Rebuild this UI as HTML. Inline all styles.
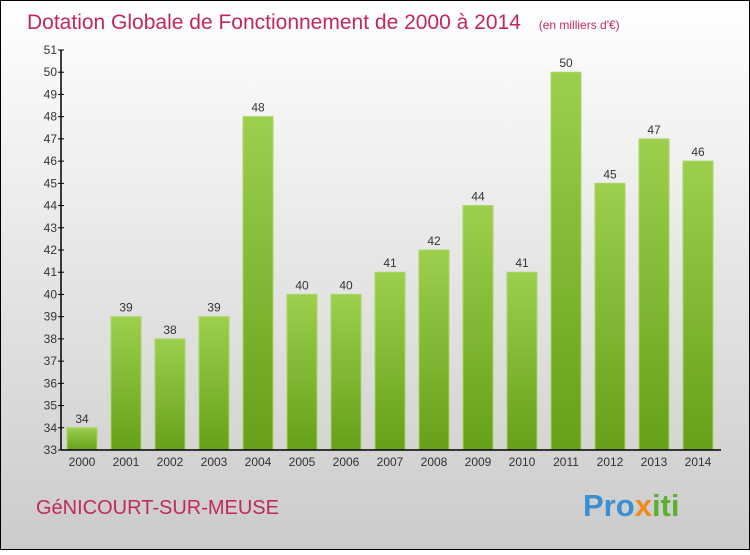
<!DOCTYPE html>
<html><head><meta charset="utf-8"><style>
body{margin:0}
svg text{font-family:"Liberation Sans",sans-serif}
</style></head><body>
<svg width="750" height="550" xmlns="http://www.w3.org/2000/svg">
<defs>
<linearGradient id="bg" x1="0" y1="0" x2="0" y2="1"><stop offset="0" stop-color="#ffffff"/><stop offset="1" stop-color="#cbcbcb"/></linearGradient>
<linearGradient id="bar" x1="0" y1="0" x2="0" y2="1"><stop offset="0" stop-color="#9ccf4e"/><stop offset="1" stop-color="#66a01a"/></linearGradient>
</defs>
<rect x="0.5" y="0.5" width="749" height="549" fill="url(#bg)" stroke="#000"/>
<text x="27" y="29" font-size="21" fill="#c2285a">Dotation Globale de Fonctionnement de 2000 à 2014 <tspan font-size="12" dx="12">(en milliers d'€)</tspan></text>
<text x="36" y="514" font-size="20" fill="#c2285a">GéNICOURT-SUR-MEUSE</text>
<text x="583" y="516" font-size="31" font-weight="bold" fill="#3a8fd0">Pro<tspan fill="#f08a1c">x</tspan><tspan fill="#5cb030">iti</tspan></text>
<g id="plot"></g>
</svg>
<script>
const years=["2000","2001","2002","2003","2004","2005","2006","2007","2008","2009","2010","2011","2012","2013","2014"];
const values=[34,39,38,39,48,40,40,41,42,44,41,50,45,47,46];
const yTicks=[33,34,35,36,37,38,39,40,41,42,43,44,45,46,47,48,49,50,51];
const NS="http://www.w3.org/2000/svg";
const g=document.getElementById('plot');
const y=v=>450-(v-33)*400/18;
const x=i=>67+i*44;
function mk(t,a,txt){const e=document.createElementNS(NS,t);for(const k in a)e.setAttribute(k,a[k]);if(txt!=null)e.textContent=txt;g.appendChild(e);return e;}
values.forEach((v,i)=>{
 const r=mk('rect',{x:x(i),y:y(v),width:30,height:450-y(v),fill:'url(#bar)',stroke:'#a8d860','stroke-width':1});
 
 
 const l=mk('text',{x:x(i)+15,y:y(v)-5,'font-size':12,fill:'#333','text-anchor':'middle'},v);
 
 
 const t=mk('text',{x:x(i)+15,y:466,'font-size':12,fill:'#333','text-anchor':'middle'},years[i]);
 
 
});
yTicks.forEach(v=>{
 const tk=mk('line',{x1:58,x2:64,y1:y(v),y2:y(v),stroke:'#000'});
 
 
 const t=mk('text',{x:57,y:y(v)+4,'font-size':12,fill:'#333','text-anchor':'end'},v);
 
 
});
const ya=mk('line',{x1:61,x2:61,y1:50,y2:450,stroke:'#000','stroke-width':1.5});


const xa=mk('line',{x1:61,x2:721,y1:450,y2:450,stroke:'#000','stroke-width':1.5});


</script>
</body></html>
